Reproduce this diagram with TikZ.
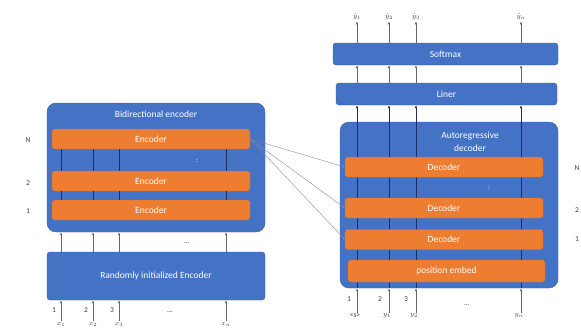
\documentclass[tikz,border=0pt]{standalone}
\usepackage{fontspec}
\setmainfont{Carlito}
\usetikzlibrary{arrows.meta,positioning,fit}
\definecolor{boxblue}{HTML}{4472C4}
\definecolor{layerorange}{HTML}{ED7D31}
\definecolor{wirenavy}{HTML}{1F2D5A}

\begin{document}
\begin{tikzpicture}[x=1pt,y=-1pt,font=\fontsize{9.5}{12}\selectfont,>={Latex[length=3pt,width=2.6pt]},
  outer/.style={fill=boxblue,draw=boxblue!85!black,rounded corners=9pt},
  bar/.style={fill=boxblue,draw=boxblue!85!black,rounded corners=3pt,text=white,minimum height=22pt,inner sep=0pt},
  layer/.style={fill=layerorange,draw=layerorange!90!black,rounded corners=3pt,text=white,minimum height=20pt,minimum width=198pt,inner sep=0pt},
  wire/.style={wirenavy,thick},
  flow/.style={->,black!60,semithick},
  cross/.style={-{Latex[length=2pt,width=2pt]},black!45,thin},
  lbl/.style={font=\fontsize{7.5}{8}\selectfont,text=black!75,inner sep=1pt}]
\useasboundingbox (0,0) rectangle (581,333);

% encoder side
\node[outer,minimum width=218pt,minimum height=129pt] (encbox) at (156,167.5) {};
\node[text=white] (enctitle) at (156,114) {Bidirectional encoder};
\node[bar,minimum width=218pt,minimum height=48pt] (rand) at (156,276) {Randomly initialized Encoder};

\node[lbl] (x1) at (61,324) {$x_1$};
\node[lbl] (x2) at (93,324) {$x_2$};
\node[lbl] (x3) at (119,324) {$x_3$};
\node[lbl] (xn) at (226,324) {$x_n$};

\node[layer] (encN) at (151,139) {Encoder};
\node[layer] (enc2) at (151,181) {Encoder};
\node[layer] (enc1) at (151,210) {Encoder};
\draw[wire] (x1 |- encN.south) -- (x1 |- enc2.north) (x1 |- enc2.south) -- (x1 |- enc1.north)
  (x2 |- encN.south) -- (x2 |- enc2.north) (x2 |- enc2.south) -- (x2 |- enc1.north)
  (x3 |- encN.south) -- (x3 |- enc2.north) (x3 |- enc2.south) -- (x3 |- enc1.north)
  (xn |- encN.south) -- (xn |- enc2.north) (xn |- enc2.south) -- (xn |- enc1.north);
\node[text=white,font=\fontsize{7}{8}\selectfont] (encdots) at (197,161) {:};

\draw[flow] (x1 |- rand.north) -- (x1 |- encbox.south);
\draw[flow] (x2 |- rand.north) -- (x2 |- encbox.south);
\draw[flow] (x3 |- rand.north) -- (x3 |- encbox.south);
\draw[flow] (xn |- rand.north) -- (xn |- encbox.south);
\draw[flow] (x1.north) -- (x1 |- rand.south);
\draw[flow] (x2.north) -- (x2 |- rand.south);
\draw[flow] (x3.north) -- (x3 |- rand.south);
\draw[flow] (xn.north) -- (xn |- rand.south);

\node[lbl] (in1) at (54,310) {1};
\node[lbl] (in2) at (86,310) {2};
\node[lbl] (in3) at (112,310) {3};
\node[lbl] (indots) at (170,312) {\dots};
\node[lbl] (middots) at (187,243) {\dots};
\node[lbl] (encNlbl) at (28,140) {N};
\node[lbl] (enc2lbl) at (28,183) {2};
\node[lbl] (enc1lbl) at (28,211) {1};

% decoder side
\node[bar,minimum width=225pt] (softmax) at (445.5,54) {Softmax};
\node[bar,minimum width=221pt] (liner) at (446.5,94) {Liner};
\node[outer,minimum width=218pt,minimum height=166pt] (decbox) at (449,205) {};
\node[text=white,align=center,font=\fontsize{9.5}{13}\selectfont] (dectitle) at (470,142) {Autoregressive\\decoder};

\node[lbl] (s0) at (355,316) {\textless s\textgreater};
\node[lbl] (y1) at (387,316) {$y_1$};
\node[lbl] (y2) at (414,316) {$y_2$};
\node[lbl] (yn) at (519,316) {$y_n$};
\node[lbl] (h1) at (357,17) {$\hat{y}_1$};
\node[lbl] (h2) at (389,17) {$\hat{y}_2$};
\node[lbl] (h3) at (416,17) {$\hat{y}_3$};
\node[lbl] (hn) at (521,17) {$\hat{y}_n$};

\draw[wire,->] (h1 |- decbox.south) -- (h1 |- liner.south);
\draw[wire,->] (h2 |- decbox.south) -- (h2 |- liner.south);
\draw[wire,->] (h3 |- decbox.south) -- (h3 |- liner.south);
\draw[wire,->] (hn |- decbox.south) -- (hn |- liner.south);

\node[layer] (decN) at (444,167) {Decoder};
\node[layer] (dec2) at (444,208) {Decoder};
\node[layer] (dec1) at (444,239.5) {Decoder};
\node[layer,minimum width=197pt,minimum height=22pt] (posemb) at (446.5,271) {position embed};
\node[text=white,font=\fontsize{7}{8}\selectfont] (decdots) at (489,188) {:};

\draw[flow] (h1 |- s0.north) -- (h1 |- decbox.south);
\draw[flow] (h2 |- y1.north) -- (h2 |- decbox.south);
\draw[flow] (h3 |- y2.north) -- (h3 |- decbox.south);
\draw[flow] (hn |- yn.north) -- (hn |- decbox.south);
\draw[flow] (h1 |- liner.north) -- (h1 |- softmax.south);
\draw[flow] (h2 |- liner.north) -- (h2 |- softmax.south);
\draw[flow] (h3 |- liner.north) -- (h3 |- softmax.south);
\draw[flow] (hn |- liner.north) -- (hn |- softmax.south);
\draw[flow] (h1 |- softmax.north) -- (h1.south);
\draw[flow] (h2 |- softmax.north) -- (h2.south);
\draw[flow] (h3 |- softmax.north) -- (h3.south);
\draw[flow] (hn |- softmax.north) -- (hn.south);

\node[lbl] (din1) at (349,299) {1};
\node[lbl] (din2) at (380,299) {2};
\node[lbl] (din3) at (406,299) {3};
\node[lbl] (dindots) at (467,305) {\dots};
\node[lbl] (decNlbl) at (577,168) {N};
\node[lbl] (dec2lbl) at (577,210) {2};
\node[lbl] (dec1lbl) at (577,239) {1};

% encoder output into every decoder layer
\draw[cross] (encN.east) -- (decN.west);
\draw[cross] (encN.east) -- (dec2.west);
\draw[cross] (encN.east) -- (dec1.west);
\end{tikzpicture}
\end{document}
